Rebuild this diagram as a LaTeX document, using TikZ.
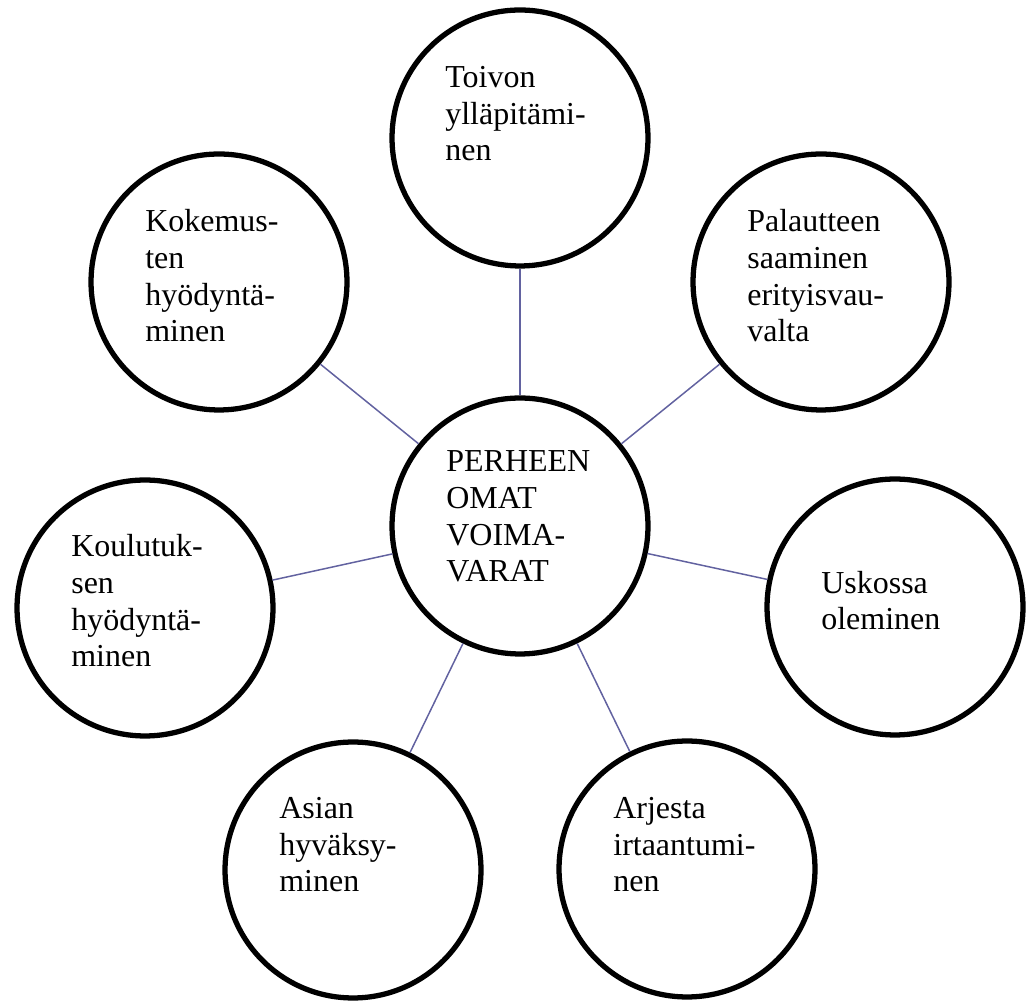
\documentclass[tikz,border=0pt]{standalone}
\usepackage{fontspec}
\setmainfont{Liberation Serif}
\definecolor{viiva}{RGB}{98,98,160}

\begin{document}
\begin{tikzpicture}[
    x=0.02cm, y=0.02cm,
    pallo/.style={circle, draw, line width=3pt, minimum size=5.12cm, inner sep=0pt}, % ympyrät
    teksti/.style={anchor=base west, align=left, inner sep=0pt, font=\fontsize{18.2}{21}\selectfont}, % base = viimeinen rivi
    yhteys/.style={draw=viiva, line width=0.85pt}
]
\clip (0,0) rectangle (1027,1000);

% keskimmäinen ympyrä
\node[pallo] (perhe) at (520,474) {};

% ympäröivät ympyrät
\node[pallo] (toivo) at (520,862) {};
\node[pallo] (palaute) at (821,718) {};
\node[pallo] (usko) at (895,393) {};
\node[pallo] (arki) at (687,131) {};
\node[pallo] (asia) at (353,130) {};
\node[pallo] (koulutus) at (145,392) {};
\node[pallo] (kokemus) at (219,718) {};

% yhteydet
\draw[yhteys] (perhe) -- (toivo);
\draw[yhteys] (perhe) -- (palaute);
\draw[yhteys] (perhe) -- (usko);
\draw[yhteys] (perhe) -- (arki);
\draw[yhteys] (perhe) -- (asia);
\draw[yhteys] (perhe) -- (koulutus);
\draw[yhteys] (perhe) -- (kokemus);

% tekstit
\node[teksti] (perhe-t) at (446,418) {PERHEEN\\OMAT\\VOIMA-\\VARAT};
\node[teksti] (toivo-t) at (445,839) {Toivon\\ylläpitämi-\\nen};
\node[teksti] (palaute-t) at (747,658) {Palautteen\\saaminen\\erityisvau-\\valta};
\node[teksti] (usko-t) at (821,370) {Uskossa\\oleminen};
\node[teksti] (arki-t) at (613,108) {Arjesta\\irtaantumi-\\nen};
\node[teksti] (asia-t) at (279,108) {Asian\\hyväksy-\\minen};
\node[teksti] (koulutus-t) at (71,333) {Koulutuk-\\sen\\hyödyntä-\\minen};
\node[teksti] (kokemus-t) at (145,658) {Kokemus-\\ten\\hyödyntä-\\minen};
\end{tikzpicture}
\end{document}
